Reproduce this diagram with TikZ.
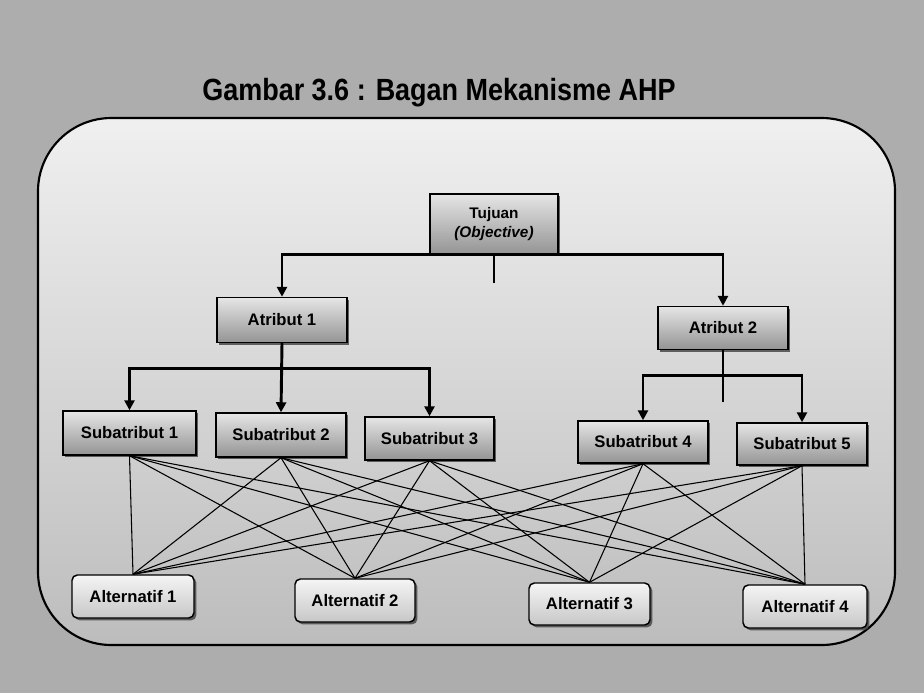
\documentclass[tikz,border=0pt]{standalone}
\usepackage{fontspec}
\setmainfont{Liberation Sans}
\usetikzlibrary{arrows.meta,shadows,positioning}

\tikzset{
  basebox/.style={draw=black, line width=1.1pt, inner sep=0pt, align=center,
    font=\bfseries\fontsize{12.5}{14}\selectfont,
    drop shadow={shadow xshift=1.8pt, shadow yshift=-1.8pt, fill=black!75, opacity=0.8}},
  levelbox/.style={basebox, rectangle, top color=black!10, bottom color=black!42},
  altbox/.style={basebox, rounded corners=4pt, top color=black!4, bottom color=black!22},
  bus/.style={line width=2.2pt, draw=black},
  busarrow/.style={bus, -{Triangle[length=7.5pt,width=7.5pt]}},
  link/.style={line width=0.8pt, draw=black},
}

\begin{document}
\begin{tikzpicture}[x=0.75pt, y=-0.75pt]
  % page and frame
  \path[use as bounding box, fill=black!32] (0,0) rectangle (924,693);
  \draw[line width=1.6pt, top color=black!6, bottom color=black!26, rounded corners=55pt]
    (38,118) rectangle (895,645);

  % heading
  \node[font=\bfseries\fontsize{23}{27}\selectfont] (title) at (439,93)
    {\scalebox{0.88}[1]{Gambar 3.6 : Bagan Mekanisme AHP}};

  % goal, attributes and sub-attributes
  \node[levelbox, minimum width=0.75*128pt, minimum height=0.75*60pt,
        font=\bfseries\fontsize{11.5}{14}\selectfont] (goal) at (494,224)
    {Tujuan\\\textit{(Objective)}};
  \node[levelbox, minimum width=0.75*130pt, minimum height=0.75*45pt] (at1) at (282,320) {Atribut 1};
  \node[levelbox, minimum width=0.75*130pt, minimum height=0.75*43pt] (at2) at (723,328) {Atribut 2};

  \node[levelbox, minimum width=0.75*133pt, minimum height=0.75*44pt] (s1) at (129.5,433) {Subatribut 1};
  \node[levelbox, minimum width=0.75*130pt, minimum height=0.75*44pt] (s2) at (281,435) {Subatribut 2};
  \node[levelbox, minimum width=0.75*129pt, minimum height=0.75*43pt] (s3) at (429.5,438.5) {Subatribut 3};
  \node[levelbox, minimum width=0.75*130pt, minimum height=0.75*42pt] (s4) at (643,442) {Subatribut 4};
  \node[levelbox, minimum width=0.75*130pt, minimum height=0.75*42pt] (s5) at (802,444) {Subatribut 5};

  % alternatives
  \node[altbox, minimum width=0.75*122pt, minimum height=0.75*43pt] (al1) at (133,596.5) {Alternatif 1};
  \node[altbox, minimum width=0.75*120pt, minimum height=0.75*43pt] (al2) at (355,600.5) {Alternatif 2};
  \node[altbox, minimum width=0.75*121pt, minimum height=0.75*42pt] (al3) at (589.5,604) {Alternatif 3};
  \node[altbox, minimum width=0.75*124pt, minimum height=0.75*43pt] (al4) at (805,606.5) {Alternatif 4};

  % goal to attributes
  \draw[bus] (goal.south) -- ++(0,28);
  \draw[busarrow] (goal.south) -| (at1.north);
  \draw[busarrow] (goal.south) -| (at2.north);

  % attribute 1 to its sub-attributes
  \draw[busarrow] (at1.south) -- (s2.north);
  \draw[busarrow] (at1.south) -- ++(0,25) -| (s1.north);
  \draw[busarrow] (at1.south) -- ++(0,25) -| (s3.north);

  % attribute 2 to its sub-attributes
  \draw[bus] (at2.south) -- ++(0,52);
  \draw[busarrow] (at2.south) -- ++(0,25) -| (s4.north);
  \draw[busarrow] (at2.south) -- ++(0,25) -| (s5.north);

  % every sub-attribute to every alternative
  \foreach \s in {s1,s2,s3,s4,s5}
    \foreach \a in {al1,al2,al3,al4}
      \draw[link] (\s.south) -- (\a.north);
\end{tikzpicture}
\end{document}
